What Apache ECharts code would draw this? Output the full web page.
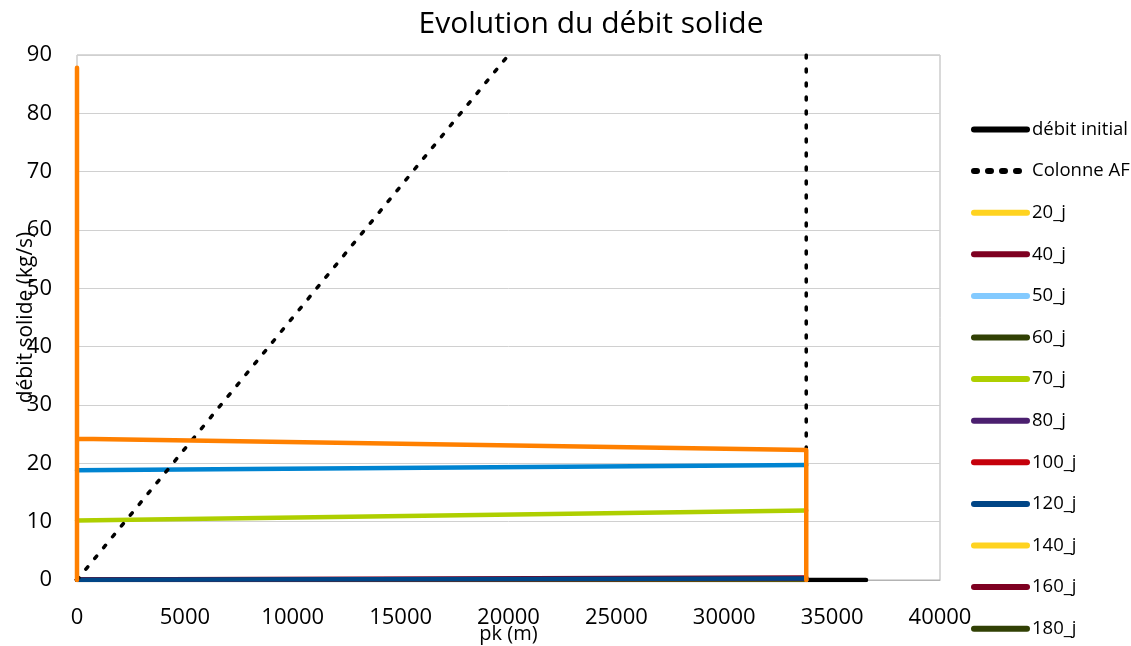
<!DOCTYPE html>
<html>
<head>
<meta charset="utf-8">
<script src="https://cdn.jsdelivr.net/npm/echarts@6/dist/echarts.min.js"></script>
<style>
html,body{margin:0;padding:0;background:#fff;}
#chart{width:1131px;height:646px;}
</style>
</head>
<body>
<div id="chart"></div>
<script>
// Axis ticks
const xTicks = [0, 5000, 10000, 15000, 20000, 25000, 30000, 35000, 40000];
const yTicks = [0, 10, 20, 30, 40, 50, 60, 70, 80, 90];

// Series names shown in the legend
const legendNames = ['débit initial', 'Colonne AF', '20_j', '40_j', '50_j', '60_j', '70_j',
  '80_j', '100_j', '120_j', '140_j', '160_j', '180_j'];

// Data: [pk (m), débit solide (kg/s)]
const debitInitial = [[0, 0], [36570, 0]];
const colonneAF = [[0, 0], [20000, 90], ['-', '-'], [33800, 90], [33800, 0]];
const j20 = [[0, 0.05], [33800, 0.1]];
const j40 = [[0, 0.1], [33800, 0.45]];
const j50 = [[0, 0.05], [33800, 0.1]];
const j60 = [[0, 0.05], [33800, 0.1]];
const j70 = [[0, 10.2], [33800, 11.9]];
const j80 = [[0, 0.05], [33800, 0.1]];
const j100 = [[0, 0.05], [33800, 0.1]];
const j120 = [[0, 0.05], [33800, 0.25]];
const j140 = [[0, 0.05], [33800, 0.1]];
const j160 = [[0, 0.05], [33800, 0.2]];
const j180 = [[0, 0.05], [33800, 0.1]];
const j200 = [[0, 87.8], [0, 0], [0, 24.2], [33800, 22.3], [33800, 0]];
const j220 = [[0, 18.8], [33800, 19.7]];

const colors = {
  'débit initial': '#000000', 'Colonne AF': '#000000',
  '20_j': '#ffd320', '40_j': '#7e0021', '50_j': '#83caff', '60_j': '#314004',
  '70_j': '#aecf00', '80_j': '#4b1f6f', '100_j': '#c5000b', '120_j': '#004586',
  '140_j': '#ffd320', '160_j': '#7e0021', '180_j': '#314004',
  '200_j': '#ff8000', '220_j': '#0084d1'
};

function line(name, data, extra) {
  return Object.assign({
    name: name,
    type: 'line',
    data: data,
    showSymbol: false,
    symbol: 'none',
    connectNulls: false,
    animation: false,
    lineStyle: { color: colors[name], width: 4.5, cap: 'round', join: 'round' },
    itemStyle: { color: colors[name] },
    z: 2
  }, extra || {});
}

const series = [
  line('débit initial', debitInitial),
  line('20_j', j20),
  line('50_j', j50),
  line('60_j', j60),
  line('80_j', j80),
  line('100_j', j100),
  line('140_j', j140),
  line('180_j', j180),
  line('40_j', j40),
  line('160_j', j160),
  line('120_j', j120),
  line('70_j', j70),
  line('220_j', j220),
  line('Colonne AF', colonneAF, {
    lineStyle: { color: '#000', width: 3.5, type: [3, 11], cap: 'round' }, z: 3
  }),
  line('200_j', j200, { z: 4 })
];

const chart = echarts.init(document.getElementById('chart'), null, { renderer: 'canvas' });
const font = '"Open Sans", "Noto Sans", sans-serif';

chart.setOption({
  backgroundColor: '#ffffff',
  textStyle: { fontFamily: font, color: '#000' },
  title: {
    text: 'Evolution du débit solide',
    left: 586, top: 4, textAlign: 'center',
    textStyle: { fontFamily: font, fontSize: 30, fontWeight: 'normal', color: '#000' }
  },
  grid: {
    left: 77, right: 191, top: 55, bottom: 66,
    outerBoundsMode: 'none',
    containLabel: false,
    show: true, borderColor: '#b3b3b3', borderWidth: 1, backgroundColor: 'transparent'
  },
  legend: {
    orient: 'vertical',
    left: 966, top: 115,
    data: legendNames,
    itemWidth: 53, itemHeight: 14, itemGap: 22.6,
    textStyle: { fontFamily: font, fontSize: 18.5, color: '#000' },
    lineStyle: { width: 6, cap: 'round' },
    itemStyle: { opacity: 0 },
    selectedMode: false
  },
  xAxis: {
    type: 'value', min: 0, max: 40000, interval: 5000,
    name: 'pk (m)', nameLocation: 'middle', nameGap: 44, nameMoveOverlap: false,
    nameTextStyle: { fontFamily: font, fontSize: 20, color: '#000' },
    axisLine: { show: true, lineStyle: { color: '#b3b3b3', width: 1 } },
    axisTick: { show: false },
    splitLine: { show: false },
    axisLabel: {
      fontFamily: font, fontSize: 22, color: '#000', margin: 27,
      formatter: v => xTicks.includes(v) ? String(v) : ''
    }
  },
  yAxis: {
    type: 'value', min: 0, max: 90, interval: 10,
    name: 'débit solide (kg/s)', nameLocation: 'middle', nameGap: 40, nameMoveOverlap: false,
    nameTextStyle: { fontFamily: font, fontSize: 21, color: '#000' },
    axisLine: { show: false },
    axisTick: { show: false },
    splitLine: { show: true, lineStyle: { color: '#d0d0d0', width: 1 } },
    axisLabel: {
      fontFamily: font, fontSize: 22, color: '#000', margin: 25,
      formatter: v => yTicks.includes(v) ? String(v) : ''
    }
  },
  series: series
});
</script>
</body>
</html>
